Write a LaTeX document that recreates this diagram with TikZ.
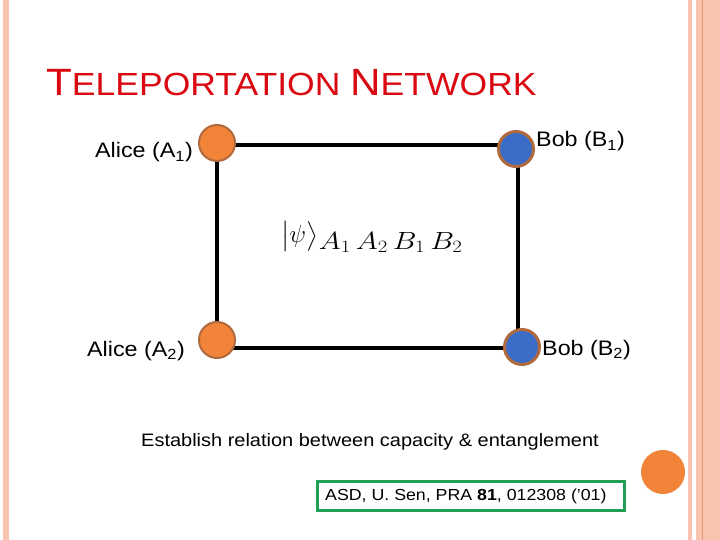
\documentclass[tikz,border=0pt]{standalone}
\usepackage{fontspec}
\setmainfont[FakeStretch=1.11]{Liberation Sans}
\usepackage{amsmath}
\usepackage{graphicx}
\definecolor{salmon}{RGB}{248,196,176}
\definecolor{salmondark}{RGB}{236,150,120}
\definecolor{titlered}{RGB}{218,8,16}
\definecolor{orangefill}{RGB}{242,132,58}
\definecolor{bluefill}{RGB}{58,108,200}
\definecolor{brownline}{RGB}{176,106,62}
\definecolor{boxgreen}{RGB}{32,160,84}
\tikzset{
  edge/.style={line width=4pt, black, line cap=rect},
  alice/.style={circle, fill=orangefill, draw=brownline, line width=2pt, minimum size=36pt, inner sep=0pt},
  bob/.style={circle, fill=bluefill, draw=brownline, line width=3pt, minimum size=35pt, inner sep=0pt},
  lbl/.style={font=\fontsize{21}{24}\selectfont, inner sep=0pt},
}
\begin{document}
\begin{tikzpicture}[x=1pt, y=-1pt]
\useasboundingbox (0,0) rectangle (720,540);
\fill[white] (0,0) rectangle (720,540);
% borders
\fill[salmon] (3,0) rectangle (9,540);
\fill[salmon] (688,0) rectangle (692,540);
\fill[salmon] (696,0) rectangle (720,540);
\draw[salmondark, line width=1pt] (702,0) -- (702,540);
% title
\node[anchor=base west, inner sep=0pt, text=titlered] (title) at (46,96)
  {\fontsize{38}{42}\selectfont T\fontsize{32}{36}\selectfont ELEPORTATION \fontsize{38}{42}\selectfont N\fontsize{32}{36}\selectfont ETWORK};
% corners
\coordinate (c1) at (217,145);
\coordinate (c2) at (518,145);
\coordinate (c3) at (518,348);
\coordinate (c4) at (217,348);
\draw[edge] (c1) -- (c2) -- (c3) -- (c4) -- cycle;
% nodes
\node[alice] (A1) at (217,143) {};
\node[alice] (A2) at (217,340) {};
\node[bob] (B1) at (516,149) {};
\node[bob] (B2) at (522,347) {};
% labels
\node[lbl, anchor=base east] (lA1) at (193,158) {Alice (A\textsubscript{1})};
\node[lbl, anchor=base west] (lB1) at (536,147) {Bob (B\textsubscript{1})};
\node[lbl, anchor=base east] (lA2) at (185,356) {Alice (A\textsubscript{2})};
\node[lbl, anchor=base west] (lB2) at (542,355) {Bob (B\textsubscript{2})};
% state
\node[inner sep=0pt, anchor=base west] (psi) at (281,243)
  {{\fontsize{27}{30}\selectfont $\bigl\lvert\psi\bigr\rangle$}\kern1pt\raisebox{-6pt}{\scalebox{1.2}[1]{\fontsize{24}{28}\selectfont $A_1\,A_2\,B_1\,B_2$}}};
% caption
\node[lbl, anchor=base west, font=\fontsize{18}{21}\selectfont] (cap) at (141,446)
  {Establish relation between capacity \& entanglement};
\node[draw=boxgreen, line width=3pt, minimum width=307pt, minimum height=29pt, inner sep=0pt] (ref) at (471,495.5) {};
\node[inner sep=0pt, anchor=base west, font=\fontsize{16}{19}\selectfont] (reftext) at (325,500)
  {ASD, U. Sen, PRA \textbf{81}, 012308 ('01)};
\fill[orangefill] (663,472) circle (22);
\end{tikzpicture}
\end{document}
